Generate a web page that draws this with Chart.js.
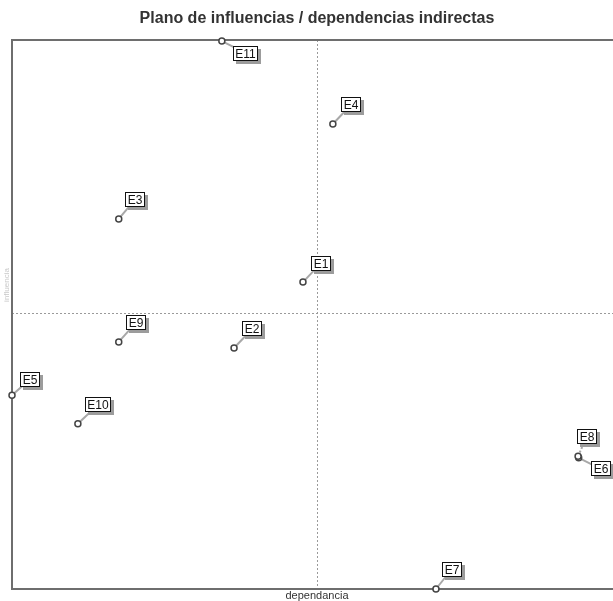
<!DOCTYPE html>
<html>
<head>
<meta charset="utf-8">
<script src="https://cdn.jsdelivr.net/npm/chart.js@4.4.1/dist/chart.umd.min.js"></script>
<style>
  html, body { margin: 0; padding: 0; background: #fff; overflow: hidden; }
  #wrap { width: 630px; height: 601px; }
</style>
</head>
<body>
<div id="wrap"><canvas id="plano" width="630" height="601"></canvas></div>
<script>
// variables del plano (influencia indirecta vs dependencia indirecta)
const variables = ['E1', 'E2', 'E3', 'E4', 'E5', 'E6', 'E7', 'E8', 'E9', 'E10', 'E11'];
const dependencia = [47.7, 36.4, 17.5, 52.6, 0.0, 92.9, 69.5, 92.8, 17.5, 10.8, 34.4];
const influencia = [55.9, 43.9, 67.4, 84.7, 35.3, 23.9, 0.0, 24.2, 45.0, 30.1, 99.8];

const titulo = 'Plano de influencias / dependencias indirectas';
const ejeX = 'dependancia';
const ejeY = 'influencia';

// desplazamiento de cada etiqueta respecto a su punto (px)
const etiquetaDx = [18, 18, 16, 18, 18, 22, 16, 9, 17, 20, 24];
const etiquetaDy = [-19, -19, -19, -19, -16, 11, -20, -20, -19, -19, 12];

const puntos = variables.map((v, i) => ({ x: dependencia[i], y: influencia[i] }));

const marco = {
  id: 'marco',
  beforeDatasetsDraw(chart) {
    const { ctx, chartArea: a, scales } = chart;
    const cx = scales.x.getPixelForValue(50);
    const cy = scales.y.getPixelForValue(50);
    ctx.save();
    // ejes punteados
    ctx.strokeStyle = '#9a9a9a';
    ctx.lineWidth = 1;
    ctx.setLineDash([2, 2]);
    ctx.beginPath();
    ctx.moveTo(Math.round(cx) + 0.5, a.top);
    ctx.lineTo(Math.round(cx) + 0.5, a.bottom);
    ctx.moveTo(a.left, Math.floor(cy) - 0.5);
    ctx.lineTo(a.right, Math.floor(cy) - 0.5);
    ctx.stroke();
    ctx.setLineDash([]);
    // marco
    ctx.strokeStyle = '#6e6e6e';
    ctx.lineWidth = 2;
    ctx.strokeRect(a.left, a.top, a.right - a.left, a.bottom - a.top);
    // conectores
    ctx.strokeStyle = '#a8a8a8';
    ctx.lineWidth = 2;
    chart.getDatasetMeta(0).data.forEach((p, i) => {
      ctx.beginPath();
      if (variables[i] === 'E8') ctx.setLineDash([2, 2]);
      ctx.moveTo(p.x, p.y);
      ctx.lineTo(p.x + etiquetaDx[i], p.y + etiquetaDy[i]);
      ctx.stroke();
      ctx.setLineDash([]);
    });
    // textos
    ctx.fillStyle = '#333';
    ctx.font = 'bold 16px "Liberation Sans", Arial, sans-serif';
    ctx.textAlign = 'center';
    ctx.textBaseline = 'middle';
    ctx.fillText(titulo, cx, 19);
    ctx.fillStyle = '#333';
    ctx.font = '11px "Liberation Sans", Arial, sans-serif';
    ctx.fillText(ejeX, cx, 596);
    ctx.save();
    ctx.translate(7, 285);
    ctx.rotate(-Math.PI / 2);
    ctx.fillStyle = '#c8c8c8';
    ctx.font = '8px "Liberation Sans", Arial, sans-serif';
    ctx.fillText(ejeY, 0, 0);
    ctx.restore();
    ctx.restore();
  },
  afterDatasetsDraw(chart) {
    const { ctx } = chart;
    ctx.save();
    ctx.font = '12px "Liberation Sans", Arial, sans-serif';
    ctx.textAlign = 'center';
    ctx.textBaseline = 'middle';
    chart.getDatasetMeta(0).data.forEach((p, i) => {
      const txt = variables[i];
      const w = Math.round(ctx.measureText(txt).width) + 5;
      const h = 15;
      const x = Math.round(p.x + etiquetaDx[i] - w / 2);
      const y = Math.round(p.y + etiquetaDy[i] - h / 2);
      ctx.fillStyle = '#9c9c9c';
      ctx.fillRect(x + 3, y + 3, w, h);
      ctx.fillStyle = '#fff';
      ctx.fillRect(x, y, w, h);
      ctx.strokeStyle = '#111';
      ctx.lineWidth = 1;
      ctx.strokeRect(x + 0.5, y + 0.5, w - 1, h - 1);
      ctx.fillStyle = '#111';
      ctx.fillText(txt, x + w / 2, y + h / 2 + 1);
    });
    ctx.restore();
  }
};

new Chart(document.getElementById('plano').getContext('2d'), {
  type: 'scatter',
  data: {
    datasets: [{
      data: puntos,
      pointRadius: 3,
      pointHoverRadius: 3,
      pointBackgroundColor: '#fff',
      pointBorderColor: '#444',
      pointBorderWidth: 1.5,
      clip: false
    }]
  },
  options: {
    responsive: false,
    animation: false,
    layout: { padding: { left: 12, right: 8, top: 40, bottom: 12 } },
    plugins: {
      legend: { display: false },
      tooltip: { enabled: false },
      title: { display: false }
    },
    scales: {
      x: { type: 'linear', min: 0, max: 100, display: false },
      y: { type: 'linear', min: 0, max: 100, display: false }
    }
  },
  plugins: [marco]
});
</script>
</body>
</html>
